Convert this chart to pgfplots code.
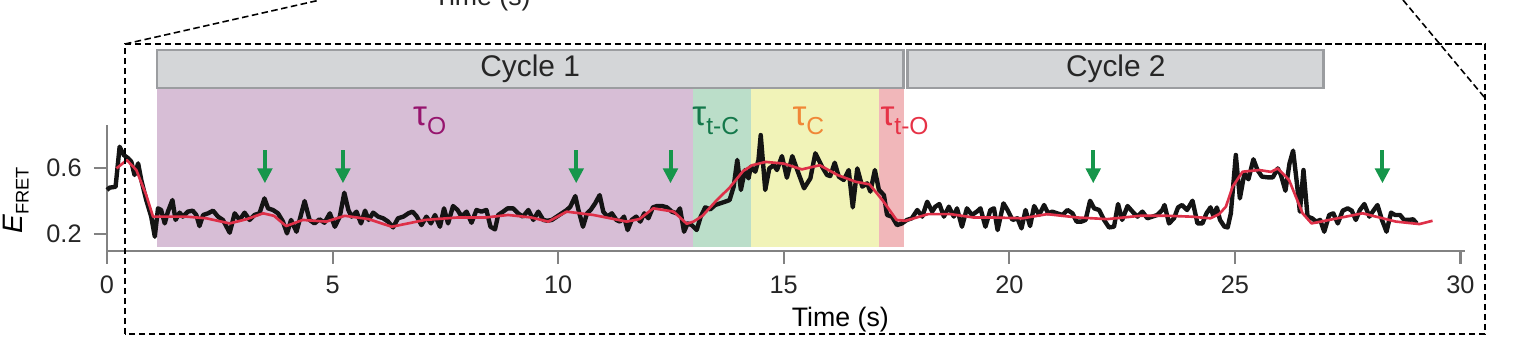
\documentclass[border=0pt]{standalone}
\usepackage{pgfplots}
\pgfplotsset{compat=1.18}
\usepackage{fontspec}
\setmainfont{Liberation Sans}
\usetikzlibrary{arrows.meta}
\definecolor{regO}{RGB}{215,190,214}
\definecolor{regTC}{RGB}{187,222,201}
\definecolor{regC}{RGB}{241,243,184}
\definecolor{regTO}{RGB}{241,183,186}
\definecolor{cycfill}{RGB}{212,214,216}
\definecolor{cycdraw}{RGB}{155,157,160}
\definecolor{axisgray}{RGB}{130,130,130}
\definecolor{redline}{RGB}{222,48,72}
\definecolor{arrowgreen}{RGB}{22,150,75}
\definecolor{tauO}{RGB}{150,20,110}
\definecolor{tauTC}{RGB}{20,120,75}
\definecolor{tauC}{RGB}{240,135,55}
\definecolor{tauTO}{RGB}{230,50,70}
\newcommand{\fs}[1]{\fontsize{#1}{#1}\selectfont}
\newcommand{\taulab}[1]{{\fs{10}τ}\raisebox{-0.9mm}{\fs{7}#1}}

\pgfplotstableread{
t y
0.00 0.466
0.06 0.48
0.19 0.485
0.28 0.727
0.37 0.677
0.47 0.657
0.54 0.636
0.61 0.556
0.69 0.626
0.76 0.526
0.87 0.405
0.98 0.305
1.06 0.184
1.13 0.355
1.20 0.345
1.28 0.264
1.35 0.335
1.45 0.405
1.52 0.285
1.61 0.329
1.68 0.305
1.79 0.335
1.90 0.341
1.98 0.315
2.05 0.248
2.13 0.315
2.24 0.325
2.35 0.341
2.46 0.305
2.57 0.285
2.72 0.208
2.83 0.325
2.94 0.285
3.05 0.329
3.16 0.285
3.27 0.315
3.38 0.325
3.49 0.415
3.57 0.355
3.68 0.345
3.79 0.325
3.90 0.275
3.99 0.204
4.08 0.285
4.20 0.214
4.27 0.285
4.38 0.399
4.49 0.285
4.60 0.264
4.71 0.289
4.82 0.268
4.94 0.325
5.05 0.244
5.16 0.305
5.26 0.449
5.35 0.345
5.42 0.305
5.53 0.335
5.63 0.264
5.72 0.341
5.80 0.285
5.90 0.329
6.01 0.305
6.12 0.295
6.23 0.275
6.34 0.240
6.45 0.295
6.57 0.305
6.68 0.325
6.77 0.335
6.86 0.309
6.97 0.254
7.08 0.305
7.18 0.264
7.27 0.315
7.38 0.244
7.47 0.355
7.56 0.264
7.67 0.369
7.77 0.345
7.86 0.305
7.97 0.335
8.08 0.268
8.19 0.345
8.30 0.335
8.41 0.345
8.50 0.244
8.60 0.228
8.67 0.315
8.78 0.335
8.88 0.355
9.00 0.355
9.11 0.325
9.22 0.305
9.34 0.345
9.45 0.285
9.56 0.335
9.67 0.285
9.76 0.28
9.86 0.285
9.97 0.305
10.08 0.325
10.19 0.345
10.27 0.365
10.38 0.429
10.45 0.345
10.55 0.244
10.64 0.325
10.72 0.345
10.82 0.385
10.92 0.435
11.00 0.335
11.09 0.305
11.19 0.325
11.29 0.285
11.37 0.275
11.46 0.305
11.54 0.224
11.63 0.285
11.73 0.305
11.82 0.275
11.91 0.325
12.00 0.295
12.10 0.361
12.19 0.369
12.30 0.369
12.41 0.361
12.52 0.335
12.63 0.325
12.70 0.355
12.79 0.214
12.87 0.264
12.96 0.254
13.07 0.224
13.16 0.305
13.26 0.361
13.37 0.349
13.48 0.375
13.59 0.385
13.70 0.395
13.80 0.405
13.89 0.486
13.97 0.647
14.05 0.466
14.14 0.586
14.22 0.536
14.27 0.606
14.37 0.576
14.44 0.647
14.49 0.797
14.59 0.466
14.68 0.596
14.78 0.616
14.85 0.586
14.96 0.670
15.07 0.54
15.19 0.670
15.30 0.586
15.45 0.476
15.59 0.536
15.70 0.687
15.85 0.606
15.96 0.556
16.03 0.550
16.13 0.630
16.22 0.546
16.33 0.526
16.44 0.586
16.53 0.361
16.63 0.596
16.74 0.486
16.85 0.506
16.92 0.456
17.02 0.586
17.11 0.466
17.22 0.435
17.29 0.315
17.40 0.305
17.51 0.254
17.62 0.264
17.73 0.285
17.84 0.295
17.96 0.345
18.07 0.305
18.18 0.395
18.29 0.335
18.36 0.365
18.45 0.381
18.55 0.305
18.66 0.365
18.77 0.305
18.84 0.355
18.95 0.244
19.06 0.355
19.17 0.315
19.28 0.335
19.36 0.355
19.47 0.244
19.58 0.345
19.66 0.355
19.74 0.224
19.87 0.385
19.96 0.345
20.07 0.285
20.18 0.295
20.27 0.234
20.36 0.345
20.46 0.248
20.55 0.369
20.66 0.315
20.77 0.375
20.86 0.325
20.95 0.335
21.06 0.325
21.18 0.315
21.29 0.345
21.40 0.325
21.49 0.275
21.60 0.275
21.69 0.285
21.79 0.401
21.88 0.355
21.99 0.345
22.10 0.285
22.21 0.240
22.32 0.244
22.41 0.381
22.50 0.285
22.62 0.369
22.73 0.335
22.84 0.305
22.95 0.335
23.06 0.295
23.17 0.305
23.28 0.315
23.39 0.345
23.44 0.375
23.54 0.264
23.65 0.295
23.74 0.361
23.83 0.375
23.94 0.345
24.06 0.401
24.17 0.264
24.28 0.264
24.37 0.325
24.46 0.361
24.52 0.31
24.60 0.36
24.67 0.285
24.77 0.244
24.84 0.240
24.91 0.325
25.02 0.677
25.11 0.415
25.21 0.566
25.30 0.530
25.41 0.651
25.50 0.586
25.60 0.546
25.73 0.542
25.84 0.542
25.95 0.596
26.02 0.556
26.12 0.461
26.21 0.626
26.29 0.703
26.37 0.516
26.44 0.335
26.52 0.586
26.61 0.305
26.71 0.295
26.80 0.275
26.89 0.285
26.98 0.214
27.09 0.315
27.18 0.325
27.28 0.264
27.39 0.341
27.50 0.355
27.59 0.341
27.68 0.285
27.77 0.345
27.87 0.381
27.98 0.305
28.07 0.341
28.16 0.375
28.26 0.285
28.36 0.214
28.46 0.329
28.55 0.315
28.66 0.315
28.75 0.285
28.86 0.285
28.95 0.289
29.03 0.264
}\rawtrace

\pgfplotstableread{
t y
0.21 0.596
0.44 0.646
0.65 0.586
0.87 0.435
1.02 0.305
1.39 0.305
1.76 0.305
2.20 0.295
2.72 0.264
3.10 0.29
3.46 0.325
3.70 0.31
3.97 0.248
4.34 0.285
4.86 0.275
5.27 0.31
5.80 0.29
6.31 0.244
7.05 0.285
7.78 0.30
8.40 0.30
8.89 0.315
9.40 0.30
9.78 0.275
10.19 0.335
10.78 0.315
11.52 0.275
11.80 0.29
12.11 0.355
12.56 0.335
12.85 0.262
13.00 0.275
13.20 0.31
13.50 0.40
13.80 0.48
14.10 0.58
14.30 0.615
14.60 0.635
15.00 0.625
15.40 0.59
15.80 0.615
16.20 0.555
16.60 0.515
16.90 0.50
17.20 0.40
17.50 0.285
17.70 0.28
18.20 0.32
18.70 0.32
19.20 0.30
19.60 0.30
20.30 0.295
20.84 0.32
21.50 0.30
22.17 0.29
22.90 0.31
23.50 0.31
24.02 0.305
24.46 0.295
24.65 0.32
24.80 0.365
24.95 0.486
25.17 0.576
25.54 0.586
25.80 0.575
25.95 0.596
26.20 0.526
26.50 0.325
26.70 0.264
27.09 0.285
27.83 0.325
28.57 0.275
29.09 0.26
29.38 0.28
}\smoothtrace

\pgfplotstableread{
t y v
3.50 0.706 -0.20
5.23 0.706 -0.20
10.40 0.706 -0.20
12.49 0.706 -0.20
21.86 0.706 -0.20
28.27 0.706 -0.20
}\arrowpos

\begin{document}
\begin{tikzpicture}
\begin{axis}[
  at={(10.7mm,10.34mm)}, anchor=south west,
  scale only axis, width=135.8mm, height=12.6mm,
  xmin=0, xmax=30.1, ymin=0.1, ymax=0.86,
  clip=false,
  axis lines*=left,
  axis line style={draw=axisgray, line width=0.6pt},
  xtick={0,5,...,30}, ytick={0.2,0.6},
  tick align=outside,
  major tick length=1.3mm,
  major tick style={draw=axisgray, line width=0.6pt},
  /pgf/number format/assume math mode=true,
  ticklabel style={font=\fs{7.2}, text=black!85},
  yticklabel style={/pgf/number format/fixed, /pgf/number format/precision=1, /pgf/number format/fixed zerofill},
  ylabel={\fs{8}\textit{E}\raisebox{-0.6mm}{\fs{5.2}FRET}},
  ylabel style={at={(axis description cs:-0.067,0.40)}, anchor=center},
  xlabel={\fs{7.6}Time (s)},
  xlabel style={at={(axis description cs:0.540,-0.551)}, anchor=center},
]
% state regions
\addplot[fill=regO, draw=none] coordinates {(1.108,0.12) (12.98,0.12) (12.98,1.081) (1.108,1.081)} -- cycle;
\addplot[fill=regTC, draw=none] coordinates {(12.98,0.12) (14.28,0.12) (14.28,1.081) (12.98,1.081)} -- cycle;
\addplot[fill=regC, draw=none] coordinates {(14.28,0.12) (17.11,0.12) (17.11,1.081) (14.28,1.081)} -- cycle;
\addplot[fill=regTO, draw=none] coordinates {(17.11,0.12) (17.66,0.12) (17.66,1.081) (17.11,1.081)} -- cycle;
% cycle bars
\addplot[fill=cycfill, draw=cycdraw, line width=0.8pt] coordinates {(1.108,1.081) (17.66,1.081) (17.66,1.31) (1.108,1.31)} -- cycle;
\addplot[fill=cycfill, draw=cycdraw, line width=0.8pt] coordinates {(17.75,1.081) (26.97,1.081) (26.97,1.31) (17.75,1.31)} -- cycle;
\node[text=black!85, font=\fs{8.5}] at (axis cs:9.38,1.195) {Cycle 1};
\node[text=black!85, font=\fs{8.5}] at (axis cs:22.36,1.195) {Cycle 2};
% tau labels
\node[anchor=base west, inner sep=0pt, text=tauO] at (axis cs:6.77,0.857) {\taulab{O}};
\node[anchor=base west, inner sep=0pt, text=tauTC] at (axis cs:12.96,0.857) {\taulab{t-C}};
\node[anchor=base west, inner sep=0pt, text=tauC] at (axis cs:15.18,0.857) {\taulab{C}};
\node[anchor=base west, inner sep=0pt, text=tauTO] at (axis cs:17.13,0.857) {\taulab{t-O}};
% traces
\addplot[black!92, line width=1.25pt, line join=round] table[x=t, y=y] {\rawtrace};
\addplot[redline, line width=0.75pt, line join=round] table[x=t, y=y] {\smoothtrace};
% arrows
\addplot[arrowgreen, line width=0.4mm, -{Triangle[width=1.45mm,length=1.5mm]}, quiver={u=0, v=\thisrow{v}}] table[x=t, y=y] {\arrowpos};
\end{axis}
% zoom frame
\draw[black, line width=0.45pt, dash pattern=on 0.65mm off 0.35mm] (12.5mm,2.0mm) rectangle (148.5mm,31.0mm);
\draw[black, line width=0.45pt, dash pattern=on 0.65mm off 0.35mm] (12.5mm,31.0mm) -- (32.0mm,35.4mm);
\draw[black, line width=0.45pt, dash pattern=on 0.65mm off 0.35mm] (140.3mm,35.4mm) -- (148.5mm,25.6mm);
\node[anchor=base west, inner sep=0pt, font=\fs{7.6}, text=black!85] at (43.3mm,34.9mm) {Time (s)};
\pgfresetboundingbox
\path[use as bounding box] (0,0) rectangle (152.7mm,35.4mm);
\end{tikzpicture}
\end{document}
